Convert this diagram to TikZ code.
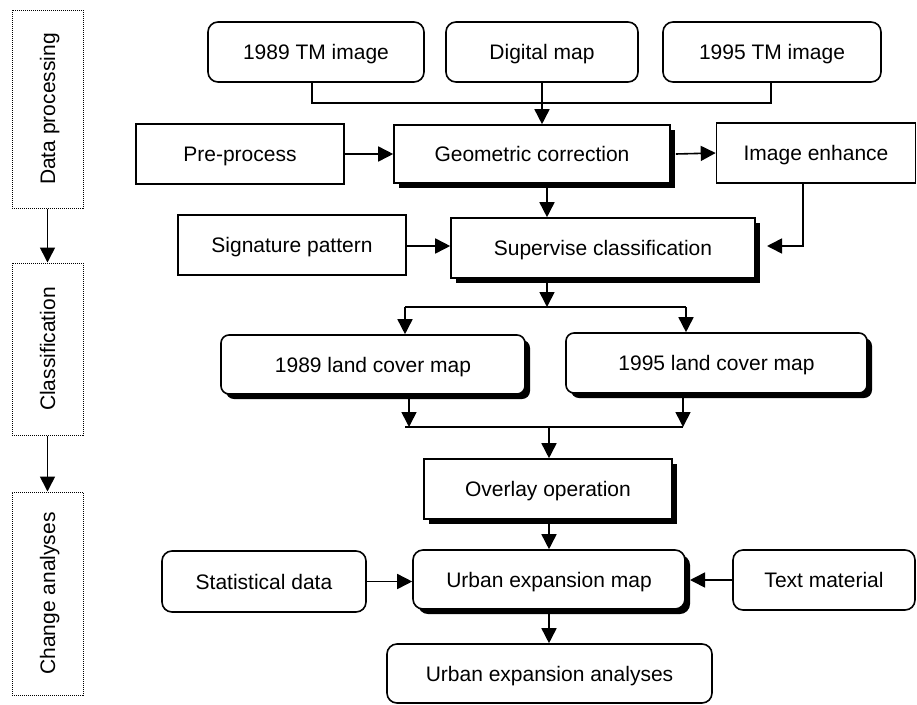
\documentclass[tikz,border=0pt]{standalone}
\usepackage{fontspec}
\setmainfont{Liberation Sans}
\usetikzlibrary{arrows.meta,shadows}
\begin{document}
\begin{tikzpicture}[x=1pt,y=-1pt,
  every node/.style={font=\fontsize{21}{25}\selectfont, inner sep=0pt, align=center, text height=15pt, text depth=0pt},
  box/.style={draw, line width=1.6pt, fill=white},
  rbox/.style={box, rounded corners=10pt},
  shad/.style={drop shadow={shadow xshift=5pt, shadow yshift=-5pt, opacity=1, fill=black}},
  stage/.style={draw, densely dotted, line width=1pt, minimum width=71pt},
  conn/.style={line width=1.6pt},
  arr/.style={conn, -{Triangle[length=15pt,width=15pt]}}]
\useasboundingbox (0,0) rectangle (917,704);
% left stage boxes
\node[stage, minimum height=198pt] (dp) at (47.5,109) {};
\node[rotate=90] (dpt) at (dp.center) {Data processing};
\node[stage, minimum height=172pt] (cl) at (47.5,349) {};
\node[rotate=90] (clt) at (cl.center) {Classification};
\node[stage, minimum height=203pt] (ca) at (47.5,593.5) {};
\node[rotate=90] (cat) at (ca.center) {Change analyses};
\draw[arr] (dp.south) -- (cl.north);
\draw[arr] (cl.south) -- (ca.north);
% top row
\node[rbox, minimum width=216pt, minimum height=60pt] (tm89) at (316,52) {1989 TM image};
\node[rbox, minimum width=192pt, minimum height=60pt] (dig) at (542,52) {Digital map};
\node[rbox, minimum width=218pt, minimum height=60pt] (tm95) at (772,52) {1995 TM image};
% second row
\node[box, minimum width=208pt, minimum height=60pt] (pre) at (240,154) {Pre-process};
\node[box, shad, minimum width=276pt, minimum height=58pt] (geo) at (532,154) {Geometric correction};
\node[box, minimum width=199pt, minimum height=60pt] (enh) at (816,153) {Image enhance};
% third row
\node[box, minimum width=228pt, minimum height=60pt] (sig) at (292,245) {Signature pattern};
\node[box, shad, minimum width=304pt, minimum height=60pt] (sup) at (603,248) {Supervise classification};
% land cover maps
\node[rbox, rounded corners=8pt, shad, minimum width=304pt, minimum height=59pt] (lc89) at (373,364.5) {1989 land cover map};
\node[rbox, rounded corners=8pt, shad, minimum width=301pt, minimum height=60pt] (lc95) at (716.5,363) {1995 land cover map};
% overlay
\node[box, shad, minimum width=248pt, minimum height=60pt] (ov) at (548,489) {Overlay operation};
% urban
\node[rbox, shad, minimum width=272pt, minimum height=59pt] (urb) at (549,579.5) {Urban expansion map};
\node[rbox, minimum width=204pt, minimum height=61pt] (stat) at (264,581.5) {Statistical data};
\node[rbox, minimum width=182pt, minimum height=60pt] (txt) at (824,580) {Text material};
\node[rbox, minimum width=325pt, minimum height=59pt] (ana) at (549.5,673.5) {Urban expansion analyses};
% coordinates
\coordinate (s1) at (547,0);
\coordinate (e1) at (803,246);
\coordinate (e2) at (767,246);
\coordinate (sp) at (547,307);
\coordinate (spL) at (405,307);
\coordinate (spR) at (686,307);
\coordinate (mg) at (549,427);
\coordinate (mgL) at (409,427);
\coordinate (mgR) at (683,427);
\coordinate (t1) at (690,580);
% connectors
\draw[conn] (tm89.south -| 312,0) -- (312,103) -- (771,103) -- (tm95.south -| 771,0);
\draw[arr] (dig.south) -- (dig.south |- geo.north);
\draw[arr] (pre.east) -- (geo.west);
\draw[arr] ([xshift=5pt]geo.east) -- (enh.west);
\draw[arr] (s1 |- geo.south) -- (s1 |- sup.north);
\draw[arr] (sig.east |- e1) -- (sup.west |- e1);
\draw[arr] (enh.south -| e1) -- (e1) -- (e2);
\draw[arr] (s1 |- sup.south) -- (sp);
\draw[conn] (spL) -- (spR);
\draw[arr] (spL) -- (spL |- lc89.north);
\draw[arr] (spR) -- (spR |- lc95.north);
\draw[arr] (mgL |- lc89.south) -- (mgL);
\draw[arr] (mgR |- lc95.south) -- (mgR);
\draw[conn] (405,427) -- (mgR);
\draw[arr] (mg) -- (mg |- ov.north);
\draw[arr] (mg |- ov.south) -- (mg |- urb.north);
\draw[arr] (stat.east) -- (stat.east -| urb.west);
\draw[arr] (txt.west) -- (t1);
\draw[arr] (mg |- urb.south) -- (mg |- ana.north);
\end{tikzpicture}
\end{document}
